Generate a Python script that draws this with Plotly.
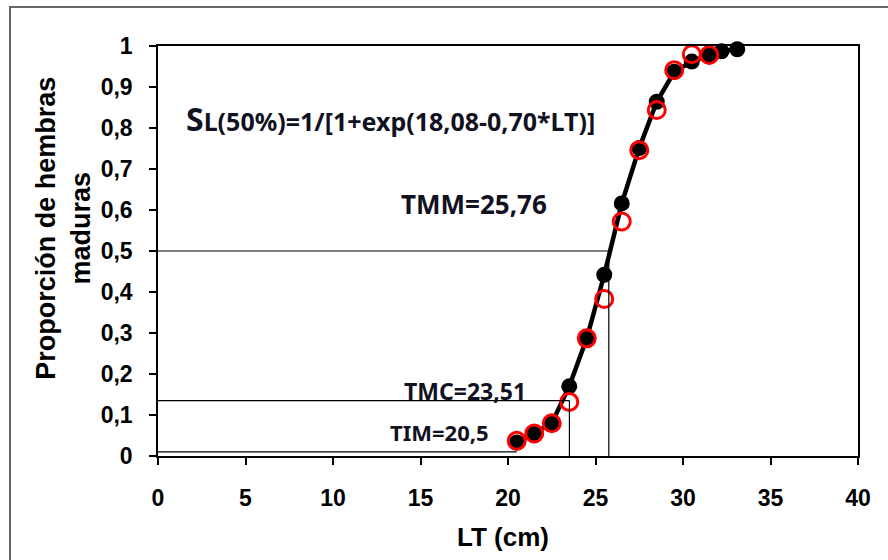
import plotly.graph_objects as go

# Observed proportion of mature females by total length (LT, cm)
lt_obs = [20.5, 21.5, 22.5, 23.5, 24.5, 25.5, 26.5, 27.5, 28.5, 29.5, 30.5, 31.5]
prop_obs = [0.037, 0.055, 0.080, 0.132, 0.287, 0.383, 0.572, 0.746, 0.844, 0.941, 0.980, 0.978]

# Fitted logistic maturity ogive
lt_fit = [20.5, 21.5, 22.5, 23.5, 24.5, 25.5, 26.5, 27.5, 28.5, 29.5, 30.5, 31.5, 32.2, 33.1]
prop_fit = [0.033, 0.055, 0.080, 0.170, 0.287, 0.442, 0.616, 0.751, 0.864, 0.937, 0.962, 0.978, 0.987, 0.992]

# Reference sizes: first maturity (TIM), commercial (TMC), median maturity (TMM)
tim, tim_p = 20.5, 0.010
tmc, tmc_p = 23.51, 0.135
tmm, tmm_p = 25.76, 0.5

x_ticks = [0, 5, 10, 15, 20, 25, 30, 35, 40]
x_labels = ["0", "5", "10", "15", "20", "25", "30", "35", "40"]
y_ticks = [0, 0.1, 0.2, 0.3, 0.4, 0.5, 0.6, 0.7, 0.8, 0.9, 1.0]
y_labels = ["0", "0,1", "0,2", "0,3", "0,4", "0,5", "0,6", "0,7", "0,8", "0,9", "1"]

ARIAL = "Liberation Sans, Arial, sans-serif"
NOTO = "Noto Sans, Open Sans, sans-serif"

fig = go.Figure()

fig.add_trace(go.Scatter(
    x=lt_fit, y=prop_fit, mode="lines+markers",
    line=dict(color="black", width=4.5),
    marker=dict(color="black", size=16),
    cliponaxis=False, showlegend=False,
))
fig.add_trace(go.Scatter(
    x=lt_obs, y=prop_obs, mode="markers",
    marker=dict(symbol="circle-open", color="#ff0000", size=17, line=dict(width=3, color="#ff0000")),
    cliponaxis=False, showlegend=False,
))

line_style = dict(color="black", width=1.2)
shapes = [
    dict(type="line", xref="x", yref="y", x0=0, x1=tmm, y0=tmm_p, y1=tmm_p, line=line_style),
    dict(type="line", xref="x", yref="y", x0=tmm, x1=tmm, y0=0, y1=tmm_p, line=line_style),
    dict(type="line", xref="x", yref="y", x0=0, x1=tmc, y0=tmc_p, y1=tmc_p, line=line_style),
    dict(type="line", xref="x", yref="y", x0=tmc, x1=tmc, y0=0, y1=tmc_p, line=line_style),
    dict(type="line", xref="x", yref="y", x0=0, x1=tim, y0=tim_p, y1=tim_p, line=line_style),
    # chart frame
    dict(type="rect", xref="paper", yref="paper", x0=-0.2114, x1=1.2, y0=-0.35, y1=1.0951,
         line=dict(color="#666666", width=2), layer="below"),
]

annotations = [
    dict(x=1.5, y=0.824, xref="x", yref="y", xanchor="left", yanchor="middle", showarrow=False,
         text="<span style='font-size:32px'>S</span>L(50%)=1/[1+exp(18,08-0,70*LT)]",
         font=dict(family=NOTO, size=25, color="#111122", weight="bold")),
    dict(x=18.03, y=0.614, xref="x", yref="y", xanchor="center", yanchor="middle", showarrow=False,
         text="TMM=25,76",
         font=dict(family=NOTO, size=26, color="#111122", weight="bold")),
    dict(x=17.54, y=0.158, xref="x", yref="y", xanchor="center", yanchor="middle", showarrow=False,
         text="TMC=23,51",
         font=dict(family=NOTO, size=23, color="#111122", weight="bold")),
    dict(x=16.1, y=0.058, xref="x", yref="y", xanchor="center", yanchor="middle", showarrow=False,
         text="TIM=20,5",
         font=dict(family=NOTO, size=22, color="#111122", weight="bold")),
    dict(x=-0.136, y=0.556, xref="paper", yref="paper", xanchor="center", yanchor="middle",
         showarrow=False, textangle=-90,
         text="Proporción de hembras<br>maduras",
         font=dict(family=ARIAL, size=27, color="black", weight="bold")),
    dict(x=0.493, y=-0.198, xref="paper", yref="paper", xanchor="center", yanchor="middle",
         showarrow=False, text="LT (cm)",
         font=dict(family=ARIAL, size=26, color="black", weight="bold")),
]

fig.update_layout(
    width=888, height=560,
    margin=dict(l=158, r=30, t=46, b=104),
    paper_bgcolor="white", plot_bgcolor="white",
    shapes=shapes, annotations=annotations,
    showlegend=False,
)
fig.update_xaxes(
    range=[0, 40], tickvals=x_ticks, ticktext=x_labels,
    showgrid=False, zeroline=False,
    showline=True, linecolor="black", linewidth=1.5, mirror=True,
    ticks="outside", ticklen=7, tickcolor="black", tickwidth=1.5,
    ticklabelstandoff=14,
    tickfont=dict(family=ARIAL, size=23, color="black", weight="bold"),
)
fig.update_yaxes(
    range=[0, 1], tickvals=y_ticks, ticktext=y_labels,
    showgrid=False, zeroline=False,
    showline=True, linecolor="black", linewidth=1.5, mirror=True,
    ticks="outside", ticklen=7, tickcolor="black", tickwidth=1.5,
    ticklabelstandoff=12,
    tickfont=dict(family=ARIAL, size=23, color="black", weight="bold"),
)

fig.write_html("out.html")
